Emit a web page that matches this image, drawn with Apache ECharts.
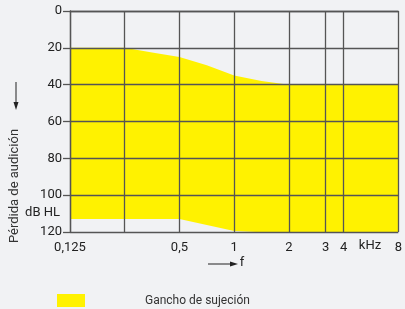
<!DOCTYPE html>
<html><head><meta charset="utf-8">
<script src="https://cdn.jsdelivr.net/npm/echarts@6/dist/echarts.min.js"></script>
<style>html,body{margin:0;padding:0;background:#f1f2f4}#c{width:405px;height:309px}</style>
</head><body><div id="c"></div>
<script>
// frequencies (kHz) and their octave position on the x scale
const freqLabels = ['0,125', '0,5', '1', '2', '3', '4', '8'];
const freqPos    = [0, 2, 3, 4, 4.67, 5, 6];
const gridPos    = [0, 1, 2, 3, 4, 4.67, 5, 6];
// upper boundary of the band (dB HL) by octave position
const upperX = [0, 1, 1.5, 2, 2.5, 3, 3.5, 4, 6];
const upperY = [20, 20, 22.5, 25, 29.5, 35, 38, 40, 40];
// lower boundary
const lowerX = [0, 2, 3, 3.4, 3.8, 6];
const lowerY = [113, 113, 119.5, 120, 120, 120];
const yTicks = [0, 20, 40, 60, 80, 100, 120];
const seriesName = 'Gancho de sujeción';

const chart = echarts.init(document.getElementById('c'), null, {renderer: 'canvas'});
const font = 'Roboto';
const bandColor = '#fff200';
chart.setOption({
  backgroundColor: '#f1f2f4',
  animation: false,
  grid: {left: 70, right: 3, top: 11, bottom: 77},
  xAxis: {
    type: 'value', min: 0, max: 6, z: 5,
    axisLine: {show: true, lineStyle: {color: '#555', width: 1.3}},
    axisTick: {show: false, customValues: gridPos},
    splitLine: {show: true, lineStyle: {color: '#555', width: 1.3}},
    axisLabel: {
      customValues: freqPos, margin: 9,
      color: '#222', fontFamily: font, fontSize: 13,
      formatter: v => { const i = freqPos.findIndex(p => Math.abs(p - v) < 0.01); return i >= 0 ? freqLabels[i] : ''; }
    }
  },
  yAxis: {
    type: 'value', inverse: true, min: 0, max: 120, interval: 20, z: 5,
    axisLine: {show: true, lineStyle: {color: '#555', width: 1.3}},
    axisTick: {show: true, length: 7, lineStyle: {color: '#555', width: 1.3}},
    splitLine: {show: true, lineStyle: {color: '#555', width: 1.3}},
    axisLabel: {color: '#222', fontFamily: font, fontSize: 13, margin: 8,
      customValues: yTicks}
  },
  legend: {
    left: 52, top: 289, itemWidth: 28, itemHeight: 13, itemGap: 10,
    icon: 'rect',
    textStyle: {color: '#333', fontFamily: font, fontSize: 12, padding: [0, 0, 0, 55]},
    data: [{name: seriesName, itemStyle: {color: bandColor}}]
  },
  graphic: [
    {type: 'text', x: 15, y: 186, rotation: Math.PI / 2, style: {text: 'Pérdida de audición', fill: '#333', font: '13px ' + font, textAlign: 'center', textVerticalAlign: 'middle'}},
    {type: 'text', x: 60, y: 213, style: {text: 'dB HL', fill: '#222', font: '13px ' + font, textAlign: 'right', textVerticalAlign: 'middle'}},
    {type: 'text', x: 370, y: 246, style: {text: 'kHz', fill: '#222', font: '13px ' + font, textAlign: 'center', textVerticalAlign: 'middle'}},
    {type: 'text', x: 242, y: 263, style: {text: 'f', fill: '#222', font: '13px ' + font, textAlign: 'center', textVerticalAlign: 'middle'}},
    {type: 'line', shape: {x1: 208, y1: 264, x2: 232, y2: 264}, style: {stroke: '#222', lineWidth: 1}},
    {type: 'polygon', shape: {points: [[230, 261.5], [238, 264], [230, 266.5]]}, style: {fill: '#222'}},
    {type: 'line', shape: {x1: 16, y1: 82, x2: 16, y2: 104}, style: {stroke: '#222', lineWidth: 1}},
    {type: 'polygon', shape: {points: [[13.5, 102], [16, 110], [18.5, 102]]}, style: {fill: '#222'}}
  ],
  series: [{
    name: seriesName,
    type: 'custom',
    z: 1,
    itemStyle: {color: bandColor},
    data: [[0, 0]],
    renderItem: (params, api) => {
      const pts = [];
      for (let i = 0; i < upperX.length; i++) pts.push(api.coord([upperX[i], upperY[i]]));
      for (let i = lowerX.length - 1; i >= 0; i--) pts.push(api.coord([lowerX[i], lowerY[i]]));
      return {type: 'polygon', shape: {points: pts, smooth: 0}, style: {fill: bandColor}, z2: 0};
    }
  }]
});
</script></body></html>
